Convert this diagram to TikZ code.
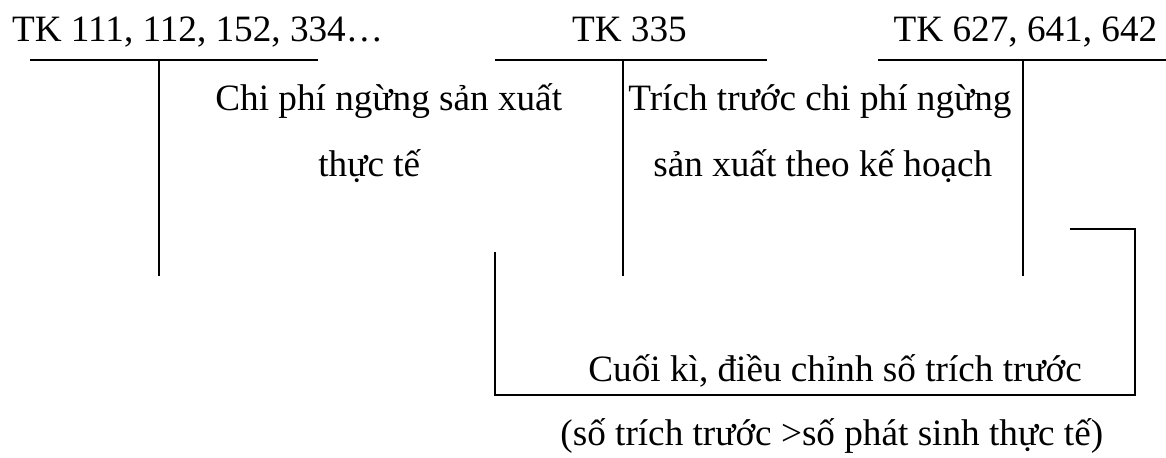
\documentclass[tikz,border=0pt]{standalone}
\usepackage{fontspec}
\setmainfont{Liberation Serif}
\tikzset{
  lbl/.style={anchor=base west,inner sep=0pt,font=\fontsize{18.6}{22}\selectfont},
  tline/.style={line width=1pt}
}
\begin{document}
\begin{tikzpicture}[x=0.5pt,y=-0.5pt]
        \useasboundingbox (0,0) rectangle (1166,457);
        % account names
        \node[lbl] (tk111) at (11.7,41.7) {TK 111, 112, 152, 334…};
        \node[lbl] (tk335) at (571.7,41.7) {TK 335};
        \node[lbl] (tk627) at (893.3,41.7) {TK 627, 641, 642};
        % T accounts
        \draw [tline] (30,60) to (318,60);
        \draw [tline] (158.5,60) to (158.5,276);
        \draw [tline] (495,60) to (766.7,60);
        \draw [tline] (622.7,60) to (622.7,276);
        \draw [tline] (878,60) to (1166,60);
        \draw [tline] (1022.7,60) to (1022.7,276);
        % entries
        \node[lbl] (chiphi) at (215,110) {Chi phí ngừng sản xuất};
        \node[lbl] (thucte) at (318,176.7) {thực tế};
        \node[lbl] (trich) at (628,110) {Trích trước chi phí ngừng};
        \node[lbl] (kehoach) at (653,176.7) {sản xuất theo kế hoạch};
        % year-end adjustment
        \draw [tline] (494.5,252) |- (1135,395) |- (1070,228.5);
        \node[lbl] (cuoiki) at (588,381.7) {Cuối kì, điều chỉnh số trích trước};
        \node[lbl] (sotrich) at (560,445) {(số trích trước >số phát sinh thực tế)};
    \end{tikzpicture}
\end{document}
